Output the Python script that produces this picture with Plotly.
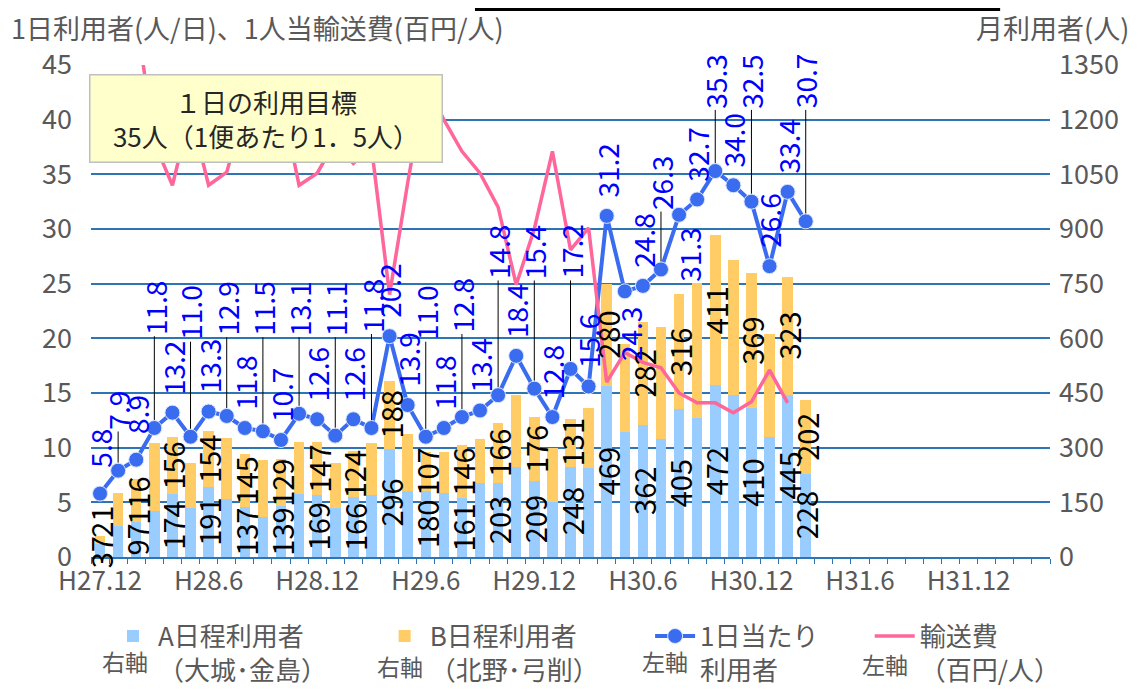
import plotly.graph_objects as go

# ---------------- data ----------------
MONTH_TICK_LABELS = ["H27.12", "H28.6", "H28.12", "H29.6", "H29.12",
                     "H30.6", "H30.12", "H31.6", "H31.12"]
MONTHS_PER_TICK = 6
N_MONTHS = 53  # H27.12 .. R2.4 shown on the axis

# monthly users, A route (大城・金島)  -- right axis
A_USERS = [37, 86, 97, 125, 174, 135, 191, 160, 137, 111,
           139, 174, 169, 135, 166, 169, 296, 180, 180, 176,
           161, 204, 203, 246, 209, 152, 248, 245, 469, 344,
           362, 324, 405, 382, 472, 444, 410, 330, 445, 228]
# monthly users, B route (北野・弓削)  -- right axis
B_USERS = [21, 90, 116, 188, 156, 123, 154, 167, 145, 156,
           129, 142, 147, 124, 124, 144, 188, 158, 107, 111,
           146, 120, 166, 198, 176, 147, 131, 164, 280, 240,
           282, 307, 316, 371, 411, 372, 369, 281, 323, 202]
# users per day -- left axis
DAILY = [5.8, 7.9, 8.9, 11.8, 13.2, 11.0, 13.3, 12.9, 11.8, 11.5,
         10.7, 13.1, 12.6, 11.1, 12.6, 11.8, 20.2, 13.9, 11.0, 11.8,
         12.8, 13.4, 14.8, 18.4, 15.4, 12.8, 17.2, 15.6, 31.2, 24.3,
         24.8, 26.3, 31.3, 32.7, 35.3, 34.0, 32.5, 26.6, 33.4, 30.7]
# transport cost per person (百円/人) -- left axis (early months run off the top)
COST = [120, 75, 49.5, 37.9, 34.0, 40.7, 34.0, 35.2, 41, 40,
        42, 34.0, 35.1, 38, 36.0, 37.5, 24.0, 34.2, 43.5, 40.0,
        37.1, 35.1, 32.0, 24.9, 30.0, 37.1, 28.1, 30.1, 16.0, 18.7,
        17.8, 17.3, 15.0, 14.1, 14.1, 13.2, 14.2, 17.1, 14.1]

# ---------------- label layout (not data) ----------------
# centre height (left-axis units) of labels that hang on a leader line
LEADER_LABEL_Y = {1: 13.4, 3: 22.8, 5: 22.3, 7: 22.7, 9: 22.7, 11: 22.7,
                  13: 22.7, 15: 23.0, 18: 22.3, 20: 23.0, 22: 27.9,
                  24: 27.9, 26: 27.9, 31: 34.2, 34: 43.5, 36: 43.5, 39: 43.5}
# labels placed below-right of their point (pixel offsets)
BELOW_LABEL_OFFSET = {29: (6, 43), 32: (10, 40)}
ABOVE_OFFSET_PX = -45
# pixel nudges (A label, B label) for crowded bar labels
BAR_LABEL_NUDGE = {0: (-2, 18)}

GRID_BLUE = "#2E75B6"
GREY = "#595959"
FONT = "Noto Sans CJK JP, Liberation Sans, sans-serif"

x_idx = list(range(len(A_USERS)))
x_cost = list(range(len(COST)))

fig = go.Figure()
fig.add_trace(go.Bar(x=x_idx, y=A_USERS, name="A日程利用者<br>（大城･金島）",
                     marker=dict(color="#99CCFF", line=dict(width=0)),
                     yaxis="y", legend="legend", showlegend=True))
fig.add_trace(go.Bar(x=x_idx, y=B_USERS, name="B日程利用者<br>（北野･弓削）",
                     marker=dict(color="#FFCC66", line=dict(width=0)),
                     yaxis="y", legend="legend2", showlegend=True))
fig.add_trace(go.Scatter(x=x_idx, y=DAILY, name="1日当たり<br>利用者",
                         mode="lines+markers",
                         line=dict(color="#3A6CF0", width=4),
                         marker=dict(size=15, color="#3A6CF0",
                                     line=dict(color="#DDE6FF", width=1)),
                         yaxis="y2", legend="legend3", showlegend=True))
fig.add_trace(go.Scatter(x=x_cost, y=COST, name="輸送費<br>（百円/人）",
                         mode="lines", line=dict(color="#FF6699", width=3.5),
                         yaxis="y2", legend="legend4", showlegend=True))

annotations = []
last = len(A_USERS) - 1
BAR_FONT = dict(size=29, color="#000000", family=FONT)
# bar value labels (every other month + last one)
for i, (a, b) in enumerate(zip(A_USERS, B_USERS)):
    if i % 2 == 0 or i == last:
        na, nb = BAR_LABEL_NUDGE.get(i, (0, 0))
        annotations.append(dict(x=i, y=a / 2, xref="x", yref="y", text=str(a),
                                textangle=-90, showarrow=False, yshift=na,
                                font=BAR_FONT))
        annotations.append(dict(x=i, y=a + b / 2, xref="x", yref="y", text=str(b),
                                textangle=-90, showarrow=False, yshift=nb,
                                font=BAR_FONT))
# per-day labels
for i, v in enumerate(DAILY):
    base = dict(x=i, y=v, xref="x", yref="y2", text=f"{v:.1f}", textangle=-90,
                font=dict(size=28, color="#0000FF", family=FONT),
                showarrow=True, arrowhead=0, arrowwidth=1, standoff=8)
    if i in LEADER_LABEL_Y:
        base.update(axref="pixel", ax=0, ayref="y2", ay=LEADER_LABEL_Y[i],
                    arrowcolor="#000000")
    elif i in BELOW_LABEL_OFFSET:
        dx, dy = BELOW_LABEL_OFFSET[i]
        base.update(ax=dx, ay=dy, arrowcolor="rgba(0,0,0,0)")
    else:
        base.update(ax=0, ay=ABOVE_OFFSET_PX, arrowcolor="rgba(0,0,0,0)")
    annotations.append(base)

# target box
annotations.append(dict(x=0.183, y=0.891, xref="paper", yref="paper",
                        text="１日の利用目標<br>35人（1便あたり1．5人）",
                        showarrow=False, xanchor="center", yanchor="middle",
                        width=349, height=84, bgcolor="#FFFFCC",
                        bordercolor="#BFBFBF", borderwidth=1.5,
                        font=dict(size=26, color="#262626", family=FONT)))
# axis titles
annotations.append(dict(x=-0.084, y=1.0761, xref="paper", yref="paper",
                        text="1日利用者(人/日)、1人当輸送費(百円/人)",
                        showarrow=False, xanchor="left", yanchor="middle",
                        borderpad=0,
                        font=dict(size=27, color=GREY, family=FONT)))
annotations.append(dict(x=1.083, y=1.0761, xref="paper", yref="paper",
                        text="月利用者(人)", showarrow=False,
                        xanchor="right", yanchor="middle", borderpad=0,
                        font=dict(size=27, color=GREY, family=FONT)))
# axis side notes under legend symbols
for xp, yp, t in [(0.0355, -0.212, "右軸"), (0.322, -0.222, "右軸"),
                  (0.599, -0.212, "左軸"), (0.828, -0.218, "左軸")]:
    annotations.append(dict(x=xp, y=yp, xref="paper", yref="paper", text=t,
                            showarrow=False, xanchor="center", yanchor="middle",
                            font=dict(size=23, color=GREY, family=FONT)))

legend_common = dict(orientation="v", xanchor="left", yanchor="top",
                     bgcolor="rgba(0,0,0,0)", valign="top", itemwidth=40,
                     font=dict(size=26, color=GREY, family=FONT))
tickvals = [k * MONTHS_PER_TICK for k in range(len(MONTH_TICK_LABELS))]
major_tick_pos = [k * MONTHS_PER_TICK - 0.5 for k in range(N_MONTHS // MONTHS_PER_TICK + 1)]

fig.update_layout(
    width=1137, height=682,
    margin=dict(l=83, r=95, t=57, b=132.5, autoexpand=False),
    paper_bgcolor="white", plot_bgcolor="white",
    showlegend=True,
    barmode="stack", bargap=0.42,
    font=dict(family=FONT, color=GREY),
    xaxis=dict(range=[-0.5, N_MONTHS - 0.5], tickmode="array", tickvals=tickvals,
               ticktext=MONTH_TICK_LABELS, ticks="", showgrid=False, zeroline=False,
               showline=True, linecolor=GRID_BLUE, linewidth=1.5,
               tickfont=dict(size=26, color=GREY, family=FONT),
               minor=dict(ticks="outside", ticklen=5, tickwidth=1.2,
                          tickcolor=GRID_BLUE, tickmode="linear", tick0=0.5, dtick=1,
                          showgrid=False)),
    xaxis2=dict(range=[-0.5, N_MONTHS - 0.5], overlaying="x", anchor="y",
                side="bottom", tickmode="array", tickvals=major_tick_pos,
                ticks="outside", ticklen=9, tickwidth=1.5, tickcolor=GRID_BLUE,
                showticklabels=False, showgrid=False, zeroline=False, showline=False),
    yaxis=dict(range=[0, 1350], side="right", tick0=0, dtick=150,
               showgrid=True, gridcolor=GRID_BLUE, gridwidth=1.5, zeroline=False,
               showline=False, ticks="", ticklabelstandoff=8,
               tickfont=dict(size=27, color=GREY, family=FONT)),
    yaxis2=dict(range=[0, 45], side="left", overlaying="y", tick0=0, dtick=5,
                showgrid=False, zeroline=False, showline=False, ticks="",
                ticklabelstandoff=18,
                tickfont=dict(size=27, color=GREY, family=FONT)),
    legend=dict(x=0.0177, y=-0.113, **legend_common),
    legend2=dict(x=0.301, y=-0.113, **legend_common),
    legend3=dict(x=0.583, y=-0.113, **legend_common),
    legend4=dict(x=0.812, y=-0.113, **legend_common),
    annotations=annotations,
    shapes=[dict(type="line", xref="paper", yref="paper", x0=0.4004, x1=0.948,
                 y0=1.1127, y1=1.1127, line=dict(color="black", width=3))],
)

fig.write_html("out.html")
